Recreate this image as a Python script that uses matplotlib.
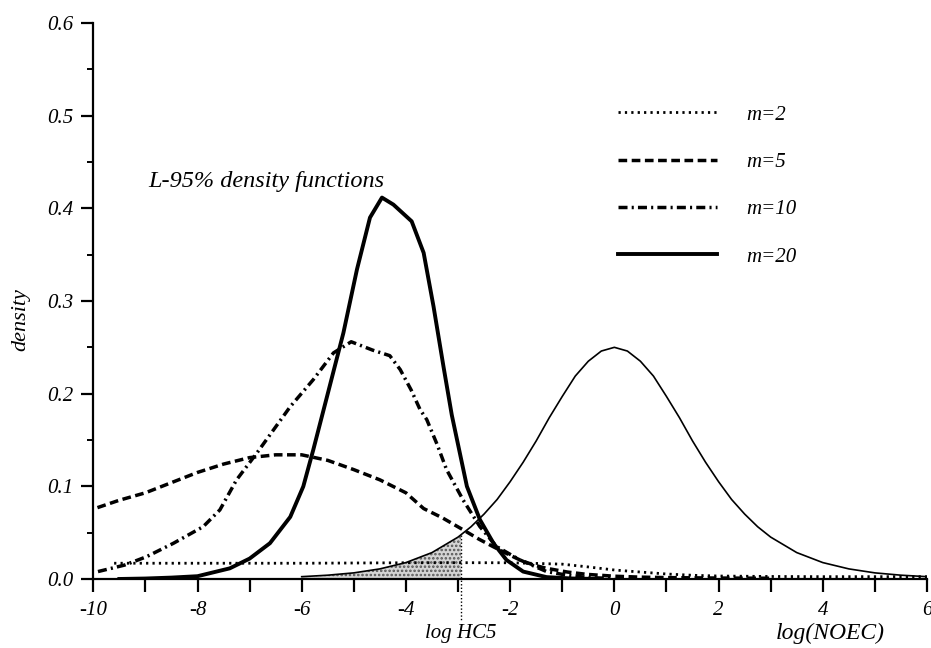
import matplotlib
matplotlib.use('Agg')
import matplotlib.pyplot as plt
from matplotlib.ticker import MultipleLocator, FormatStrFormatter
import numpy as np

plt.rcParams['font.family'] = ['Liberation Serif', 'DejaVu Serif']
plt.rcParams['font.style'] = 'italic'
plt.rcParams['axes.unicode_minus'] = False
plt.rcParams['hatch.linewidth'] = 1.2

# L-95% density curves for sample sizes m
x_m2 = [-9.6, -8, -6, -4, -3, -2, -1.5, -1, -0.5, 0, 0.5, 1, 1.5, 2, 3, 4, 5, 6]
y_m2 = [0.017, 0.017, 0.017, 0.0175, 0.0176, 0.0175, 0.0168, 0.016, 0.013, 0.0097, 0.0075, 0.0054, 0.004, 0.0032, 0.0027, 0.0025, 0.0025, 0.0025]

x_m5 = [-9.92, -9.5, -9, -8.5, -8, -7.5, -7, -6.5, -6, -5.5, -5, -4.5, -4, -3.66, -3.3, -2.9,
        -2.6, -2.33, -2.05, -1.81, -1.55, -1.3, -0.9, -0.53, 0, 0.5, 1, 2, 3]
y_m5 = [0.077, 0.085, 0.093, 0.104, 0.115, 0.124, 0.131, 0.134, 0.134, 0.128, 0.118, 0.107, 0.093, 0.076, 0.066, 0.053,
        0.043, 0.035, 0.027, 0.0205, 0.015, 0.0115, 0.0075, 0.005, 0.003, 0.002, 0.0015, 0.001, 0.0008]

x_m10 = [-9.91, -9.4, -8.98, -8.46, -7.89, -7.57, -7.25, -6.86, -6.54, -6.22, -5.78, -5.39, -5.05, -4.64,
         -4.31, -4.11, -3.9, -3.73, -3.6, -3.4, -3.22, -2.9, -2.58, -2.26, -1.81, -1.3, -0.9, -0.5, 0]
y_m10 = [0.008, 0.015, 0.024, 0.0386, 0.0565, 0.0746, 0.107, 0.136, 0.161, 0.186, 0.215, 0.244, 0.256, 0.247,
         0.241, 0.226, 0.204, 0.183, 0.172, 0.145, 0.118, 0.085, 0.0565, 0.035, 0.0205, 0.008, 0.004, 0.0015, 0.0005]

x_m20 = [-9.5, -9, -8.5, -8, -7.38, -7, -6.61, -6.22, -5.97, -5.78, -5.5, -5.2, -4.94, -4.69, -4.46,
         -4.24, -3.89, -3.66, -3.47, -3.28, -3.12, -2.83, -2.58, -2.32, -2.07, -1.75, -1.3, -0.8, -0.3]
y_m20 = [0.0, 0.0005, 0.0015, 0.003, 0.0115, 0.022, 0.0386, 0.067, 0.0998, 0.139, 0.2, 0.2656, 0.334, 0.39, 0.4116,
         0.404, 0.386, 0.352, 0.294, 0.2295, 0.177, 0.1, 0.064, 0.0386, 0.0205, 0.008, 0.002, 0.0005, 0.0]

# reference density of log(NOEC)
x_ref = [-6, -5.5, -5, -4.5, -4, -3.5, -3, -2.75, -2.5, -2.25, -2, -1.75, -1.5, -1.25, -1, -0.75, -0.5, -0.25, 0,
         0.25, 0.5, 0.75, 1, 1.25, 1.5, 1.75, 2, 2.25, 2.5, 2.75, 3, 3.5, 4, 4.5, 5, 5.5, 6]
y_ref = [0.0025, 0.0041, 0.0066, 0.0109, 0.0177, 0.0285, 0.0452, 0.0564, 0.0701, 0.0858, 0.105, 0.126, 0.149, 0.174,
         0.197, 0.219, 0.235, 0.246, 0.25, 0.246, 0.235, 0.219, 0.197, 0.174, 0.149, 0.126, 0.105, 0.0858, 0.0701,
         0.0564, 0.0452, 0.0285, 0.0177, 0.0109, 0.0066, 0.0041, 0.0025]

log_hc5 = -2.94
labels = ['m=2', 'm=5', 'm=10', 'm=20']

fig = plt.figure(figsize=(9.31, 6.48), dpi=100)
ax = fig.add_axes([0.1002, 0.1065, 0.8955, 0.858])

# shaded area under the reference density up to log HC5
x_ref_arr = np.array(x_ref)
y_ref_arr = np.array(y_ref)
hc5_density = np.interp(log_hc5, x_ref_arr, y_ref_arr)
mask = x_ref_arr < log_hc5
xs = np.append(x_ref_arr[mask], log_hc5)
ys = np.append(y_ref_arr[mask], hc5_density)
ax.fill_between(xs, 0, ys, facecolor='#d4d4d4', edgecolor='#555555', hatch='....', linewidth=0)

ax.plot(x_ref, y_ref, color='black', lw=1.2)
l2, = ax.plot(x_m2, y_m2, color='black', lw=2.0, linestyle=(0, (0.8, 1.5)), label=labels[0])
l5, = ax.plot(x_m5, y_m5, color='black', lw=2.5, linestyle=(0, (2.5, 1.3)), label=labels[1])
l10, = ax.plot(x_m10, y_m10, color='black', lw=2.5, linestyle=(0, (2.6, 1.2, 0.6, 1.2)), label=labels[2])
l20, = ax.plot(x_m20, y_m20, color='black', lw=2.8, label=labels[3])

ax.plot([log_hc5, log_hc5], [hc5_density, -0.045], color='black', lw=1.0,
        linestyle=(0, (1, 1.5)), clip_on=False)

ax.set_xlim(-10, 6)
ax.set_ylim(0, 0.6)
ax.spines['top'].set_visible(False)
ax.spines['right'].set_visible(False)
ax.spines['left'].set_linewidth(1.6)
ax.spines['bottom'].set_linewidth(1.6)

ax.xaxis.set_major_locator(MultipleLocator(2))
ax.xaxis.set_minor_locator(MultipleLocator(1))
ax.yaxis.set_major_locator(MultipleLocator(0.1))
ax.yaxis.set_minor_locator(MultipleLocator(0.05))
ax.yaxis.set_major_formatter(FormatStrFormatter('%.1f'))
ax.tick_params(axis='x', which='both', direction='out', length=9, width=1.6, pad=7, labelsize=15)
ax.tick_params(axis='y', which='major', direction='out', length=9, width=1.6, pad=5, labelsize=15)
ax.tick_params(axis='y', which='minor', direction='out', length=4.5, width=1.4)

ax.set_ylabel('density', fontsize=16)
ax.yaxis.set_label_coords(-0.076, 0.466)

ax.text(log_hc5, -0.059, 'log HC5', ha='center', va='center', fontsize=15)
ax.text(4.15, -0.059, 'log(NOEC)', ha='center', va='center', fontsize=17)
ax.text(-8.95, 0.429, 'L-95% density functions', ha='left', va='center', fontsize=17.5)

ax.legend(handles=[l2, l5, l10, l20], frameon=False, fontsize=15,
          loc='upper left', bbox_to_anchor=(0.607, 0.886),
          handlelength=4.75, handletextpad=1.4, labelspacing=1.33)

fig.savefig('out.png', dpi=100)
